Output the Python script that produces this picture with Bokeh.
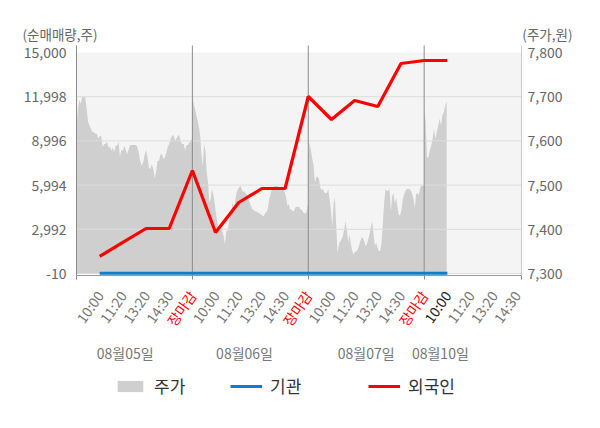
import math
from bokeh.plotting import figure
from bokeh.models import (Range1d, LinearAxis, FixedTicker, NumeralTickFormatter,
                          Legend, LegendItem)
from bokeh.core.properties import value
from bokeh.embed import file_html
from bokeh.resources import INLINE

# ---------------- data ----------------
slot_labels = ["10:00", "11:20", "13:20", "14:30", "장마감",
               "10:00", "11:20", "13:20", "14:30", "장마감",
               "10:00", "11:20", "13:20", "14:30", "장마감",
               "10:00", "11:20", "13:20", "14:30"]
current_slot = 16
date_labels = ["08월05일", "08월06일", "08월07일", "08월10일"]
left_ticks = [-10, 2992, 5994, 8996, 11998, 15000]
right_ticks = [7300, 7400, 7500, 7600, 7700, 7800]
day_bounds = [0, 5, 10, 15, 19.2]

price_day1 = [7627, 7673, 7692, 7684, 7700, 7700, 7700, 7673, 7643, 7635, 7627, 7620, 7620, 7616,
              7616, 7605, 7611, 7611, 7586, 7593, 7593, 7598, 7586, 7586, 7578, 7584, 7575, 7589,
              7589, 7598, 7564, 7580, 7578, 7589, 7580, 7570, 7580, 7591, 7591, 7591, 7591, 7591,
              7586, 7574, 7555, 7544, 7551, 7567, 7580, 7563, 7540, 7536, 7548, 7536, 7515, 7532,
              7555, 7555, 7570, 7570, 7559, 7563, 7574, 7586, 7593, 7605, 7612, 7612, 7601, 7605,
              7612, 7612, 7598, 7593, 7593, 7578, 7591, 7591, 7597, 7601, 7605]
price_day2 = [7703, 7684, 7673, 7658, 7646, 7631, 7612, 7567, 7544, 7593, 7578, 7529, 7506, 7461,
              7468, 7491, 7480, 7461, 7438, 7419, 7407, 7396, 7400, 7396, 7385, 7366, 7396, 7396,
              7415, 7430, 7445, 7461, 7445, 7468, 7483, 7491, 7495, 7498, 7491, 7483, 7487, 7480,
              7480, 7468, 7461, 7453, 7445, 7445, 7441, 7441, 7438, 7438, 7434, 7434, 7430, 7430,
              7438, 7438, 7449, 7468, 7480, 7491, 7491, 7498, 7498, 7498, 7495, 7495, 7495, 7491,
              7491, 7483, 7472, 7453, 7457, 7445, 7445, 7441, 7441, 7449, 7451, 7451, 7451, 7445,
              7445, 7438, 7438, 7434, 7445, 7461]
price_day3 = [7567, 7597, 7578, 7559, 7544, 7506, 7517, 7520, 7514, 7495, 7489, 7491, 7483, 7482,
              7482, 7491, 7468, 7445, 7407, 7457, 7472, 7407, 7346, 7366, 7373, 7377, 7385, 7400,
              7419, 7396, 7370, 7389, 7366, 7351, 7343, 7349, 7349, 7354, 7362, 7373, 7381, 7381,
              7373, 7362, 7366, 7377, 7389, 7404, 7419, 7389, 7362, 7370, 7358, 7351, 7351, 7370,
              7415, 7461, 7491, 7487, 7487, 7491, 7441, 7475, 7482, 7457, 7472, 7449, 7432, 7432,
              7445, 7468, 7480, 7487, 7491, 7491, 7491, 7487, 7480, 7468, 7449, 7480, 7482, 7477,
              7495, 7498, 7498, 7498]
price_day4 = [7673, 7646, 7563, 7563, 7578, 7589, 7605, 7627, 7605, 7620, 7635, 7650, 7635, 7658,
              7665, 7680, 7689]

flow_slots = [1, 2, 3, 4, 5, 6, 7, 8, 9, 10, 11, 12, 13, 14, 15, 16]
foreign = [1145, 2096, 3046, 3046, 6986, 2775, 4812, 5763, 5763, 12012, 10450, 11740, 11333,
           14253, 14457, 14457]
institution = [0, 0, 0, 0, 0, 0, 0, 0, 0, 0, 0, 0, 0, 0, 0, 0]

# ---------------- geometry (canvas pixels) ----------------
W, H = 600, 428
AX_L, AX_R = 76, 521          # x of slot 0 and of the right axis
TOP_PX, BOT_PX = 52, 273      # y of 15,000 / 7,800 and of -10 / 7,300
LINE_TOP, LINE_BOT = 45, 275  # extent of axis and separator lines
X0, X1 = day_bounds[0], day_bounds[-1]
PXU = (AX_R - AX_L) / (X1 - X0)
VPU = (left_ticks[-1] - left_ticks[0]) / (BOT_PX - TOP_PX)
PPU = (right_ticks[-1] - right_ticks[0]) / (BOT_PX - TOP_PX)
FONT = "Noto Sans CJK KR"
GRAY_TXT = "#666666"


def xs_of(px):
    return X0 + (px - AX_L) / PXU


def vol_of(py):
    return left_ticks[0] + (BOT_PX - py) * VPU


def prc_of(py):
    return right_ticks[0] + (BOT_PX - py) * PPU


p = figure(width=W, height=H, output_backend="svg", toolbar_location=None,
           x_range=Range1d(xs_of(0), xs_of(W)), y_range=Range1d(vol_of(H), vol_of(0)),
           min_border=0, outline_line_color=None)
p.extra_y_ranges = {"price": Range1d(prc_of(H), prc_of(0))}
p.xgrid.visible = False
p.ygrid.visible = False

# plot background
p.quad(left=[X0], right=[X1], bottom=[left_ticks[0]], top=[left_ticks[-1]],
       fill_color="#f4f4f4", line_color=None)

# price area (주가)
xs, ys = [], []
for d, arr in enumerate([price_day1, price_day2, price_day3]):
    n = len(arr)
    for i, v in enumerate(arr):
        xs.append(d * 5 + 5 * i / (n - 1))
        ys.append(v)
n4 = len(price_day4)
for i, v in enumerate(price_day4):
    xs.append(15 + 0.97 * i / (n4 - 1))
    ys.append(v)
r_price = p.varea(x=xs, y1=[right_ticks[0]] * len(xs), y2=ys, fill_color="#cfcfcf",
                  y_range_name="price")

# grid lines and day separators
grid_vals = left_ticks[:-1]
p.segment(x0=[X0] * len(grid_vals), x1=[X1] * len(grid_vals), y0=grid_vals, y1=grid_vals,
          line_color="#dcdcdc", line_width=1)
seps = day_bounds[1:-1]
p.segment(x0=seps, x1=seps, y0=[vol_of(LINE_BOT)] * len(seps), y1=[vol_of(LINE_TOP)] * len(seps),
          line_color="#8c8c8c", line_width=1)

r_inst = p.line(flow_slots, institution, line_color="#0f7dc8", line_width=3)
r_forn = p.line(flow_slots, foreign, line_color="#ff0000", line_width=3.2)

# ---------------- axes (fixed in place, no side panels) ----------------
ya = p.yaxis[0]
ya.fixed_location = X0
ya.bounds = (vol_of(LINE_BOT), vol_of(LINE_TOP))
ya.ticker = FixedTicker(ticks=left_ticks)
ya.formatter = NumeralTickFormatter(format="0,0")
ya.axis_line_color = "#8c8c8c"
ya.major_tick_out = 0
ya.major_tick_in = 0
ya.minor_tick_line_color = None
ya.major_label_standoff = 10
ya.major_label_text_font = FONT
ya.major_label_text_font_size = "14px"
ya.major_label_text_color = GRAY_TXT

ra = LinearAxis(y_range_name="price", fixed_location=X1,
                bounds=(prc_of(LINE_BOT), prc_of(LINE_TOP)),
                ticker=FixedTicker(ticks=right_ticks),
                formatter=NumeralTickFormatter(format="0,0"))
ra.axis_line_color = "#cccccc"
ra.major_tick_out = 0
ra.major_tick_in = 0
ra.minor_tick_line_color = None
ra.major_label_standoff = 6
ra.major_label_text_font = FONT
ra.major_label_text_font_size = "14px"
ra.major_label_text_color = GRAY_TXT
p.add_layout(ra, "right")

slots = list(range(1, len(slot_labels) + 1))
groups = {
    "#777777": [k for k, l in zip(slots, slot_labels) if l != "장마감" and k != current_slot],
    "#ff0000": [k for k, l in zip(slots, slot_labels) if l == "장마감"],
    "#222222": [current_slot],
}
xa = p.xaxis[0]
first = True
for col, ks in groups.items():
    ax = xa if first else LinearAxis()
    ax.fixed_location = vol_of(LINE_BOT)
    ax.bounds = (X0, X1)
    ax.ticker = FixedTicker(ticks=ks, minor_ticks=day_bounds if first else [])
    ax.major_label_overrides = {k: slot_labels[k - 1] for k in ks}
    ax.major_label_orientation = math.radians(55)
    ax.major_label_standoff = 11
    ax.major_label_text_font = FONT
    ax.major_label_text_font_size = "14px"
    ax.major_label_text_color = col
    ax.major_tick_line_color = None
    ax.axis_line_color = "#999999" if first else None
    ax.minor_tick_out = 4
    ax.minor_tick_in = 0
    ax.minor_tick_line_color = "#8c8c8c" if first else None
    if not first:
        p.add_layout(ax, "below")
    first = False

date_pos = [2.1, 7.25, 12.5, 15.7]
da = LinearAxis(fixed_location=vol_of(LINE_BOT), ticker=FixedTicker(ticks=date_pos),
                major_label_overrides={x: t for x, t in zip(date_pos, date_labels)})
da.axis_line_color = None
da.major_tick_line_color = None
da.minor_tick_line_color = None
da.major_label_standoff = 61
da.major_label_text_font = FONT
da.major_label_text_font_size = "14px"
da.major_label_text_color = "#777777"
p.add_layout(da, "below")

# axis titles
p.text(x=[xs_of(22)], y=[vol_of(33)], text=["(순매매량,주)"], text_font=value(FONT),
       text_font_size="13.5px", text_color=GRAY_TXT, text_align="left",
       text_baseline="middle")
p.text(x=[xs_of(572)], y=[vol_of(33)], text=["(주가,원)"], text_font=value(FONT),
       text_font_size="13.5px", text_color=GRAY_TXT, text_align="right",
       text_baseline="middle")

# legends
for vx, lab, rend in [(114, "주가", r_price), (230, "기관", r_inst), (368, "외국인", r_forn)]:
    lg = Legend(items=[LegendItem(label=lab, renderers=[rend])], location=(vx, 30),
                orientation="horizontal", glyph_width=32, glyph_height=14,
                label_standoff=8, padding=0, margin=0, border_line_color=None,
                background_fill_alpha=0, label_text_font=FONT, label_height=14,
                label_text_font_size="17px", label_text_color="#333333")
    p.add_layout(lg)

open("out.html", "w").write(file_html(p, INLINE))
